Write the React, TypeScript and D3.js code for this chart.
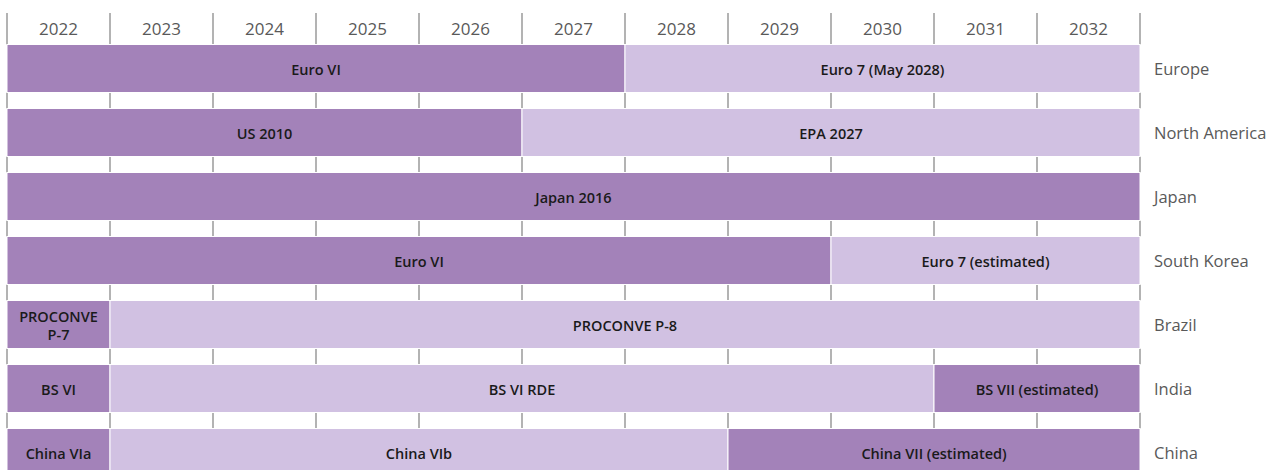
import React from "react";
import * as d3 from "d3";

const years = [2022, 2023, 2024, 2025, 2026, 2027, 2028, 2029, 2030, 2031, 2032];
const regions = ["Europe", "North America", "Japan", "South Korea", "Brazil", "India", "China"];

// segments per region: [label, start, end, kind(0=dark,1=light)]
const europe = [["Euro VI", 2022, 2028, 0], ["Euro 7 (May 2028)", 2028, 2033, 1]];
const northAmerica = [["US 2010", 2022, 2027, 0], ["EPA 2027", 2027, 2033, 1]];
const japan = [["Japan 2016", 2022, 2033, 0]];
const southKorea = [["Euro VI", 2022, 2030, 0], ["Euro 7 (estimated)", 2030, 2033, 1]];
const brazil = [["PROCONVE\nP-7", 2022, 2023, 0], ["PROCONVE P-8", 2023, 2033, 1]];
const india = [["BS VI", 2022, 2023, 0], ["BS VI RDE", 2023, 2031, 1], ["BS VII (estimated)", 2031, 2033, 0]];
const china = [["China VIa", 2022, 2023, 0], ["China VIb", 2023, 2029, 1], ["China VII (estimated)", 2029, 2033, 0]];

const segments: any[][] = [europe, northAmerica, japan, southKorea, brazil, india, china];

const W = 1278;
const H = 470;
const DARK = "#a382b9";
const LIGHT = "#d1c1e2";
const FONT = "'Open Sans', 'Noto Sans', sans-serif";

export default function App() {
  const x = d3.scaleLinear().domain([2022, 2033]).range([7, 1140]);
  const y = d3.scaleBand<string>().domain(regions).range([36.5, 36.5 + 64 * 7]).paddingInner(0.25).paddingOuter(0.125);
  const bw = y.bandwidth();
  const gridX = d3.range(2022, 2034);

  const gaps: [number, number][] = [[13, y(regions[0])!]];
  for (let i = 1; i < regions.length; i++) {
    gaps.push([y(regions[i - 1])! + bw, y(regions[i])!]);
  }

  const LS = 18;

  return (
    <svg width={W} height={H} style={{ position: "absolute", left: 0, top: 0, background: "#fff" }}>
      {gridX.map((g) =>
        gaps.map(([a, b], j) => (
          <line key={`g${g}-${j}`} x1={x(g)} x2={x(g)} y1={a} y2={b} stroke="#9a9a9a" strokeWidth={1.5} />
        ))
      )}
      {years.map((yr) => (
        <text key={yr} x={(x(yr) + x(yr + 1)) / 2} y={28} dominantBaseline="central" textAnchor="middle" fontFamily={FONT} fontSize={17} fill="#595959">
          {yr}
        </text>
      ))}
      {regions.map((r, i) => {
        const y0 = y(r)!;
        return (
          <g key={r}>
            {segments[i].map(([label, s, e, k], j) => {
              const lines = String(label).split("\n");
              const cx = (x(s) + x(e)) / 2;
              const cy = y0 + bw / 2;
              return (
                <g key={j}>
                  <rect x={x(s)} y={y0} width={x(e) - x(s)} height={bw} fill={k === 0 ? DARK : LIGHT} stroke="#ffffff" strokeWidth={1} />
                  <text x={cx} y={cy - ((lines.length - 1) * LS) / 2} textAnchor="middle" dominantBaseline="central" fontFamily={FONT} fontSize={14.5} fontWeight={600} fill="#1a1a1a">
                    {lines.map((ln, li) => (
                      <tspan key={li} x={cx} dy={li === 0 ? 0 : LS}>
                        {ln}
                      </tspan>
                    ))}
                  </text>
                </g>
              );
            })}
            <text x={1154} y={y0 + bw / 2} dominantBaseline="central" fontFamily={FONT} fontSize={16.5} fill="#595959">
              {r}
            </text>
          </g>
        );
      })}
    </svg>
  );
}
